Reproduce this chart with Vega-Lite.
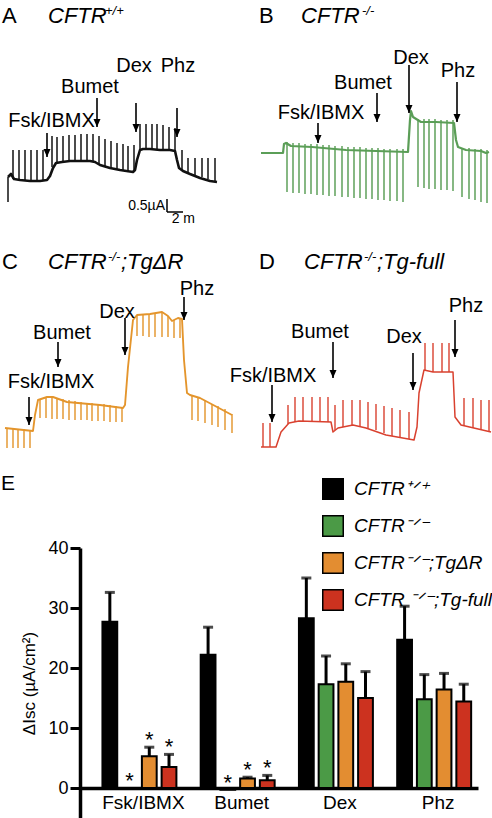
{
"$schema": "https://vega.github.io/schema/vega-lite/v6.json",
"padding": 0,
"background": "white",
"spacing": 7,
"resolve": {"legend": {"fill": "independent", "color": "independent", "strokeWidth": "independent"}, "scale": {"x": "independent", "y": "independent"}},
"config": {"font": "Liberation Sans", "view": {"stroke": null}, "title": {"fontWeight": "normal", "color": "black"},
 "headerFacet": {"labels": false, "labelExpr": "''", "labelFontSize": 0, "labelPadding": 0, "titlePadding": 0}},
"datasets": {
"fig": [
{"panel":"A","kind":"trace","t":8,"i":56},{"panel":"A","kind":"trace","t":11,"i":59},{"panel":"A","kind":"trace","t":14,"i":54},{"panel":"A","kind":"trace","t":20,"i":53},{"panel":"A","kind":"trace","t":30,"i":52},{"panel":"A","kind":"trace","t":40,"i":52},{"panel":"A","kind":"trace","t":47,"i":53},{"panel":"A","kind":"trace","t":50,"i":57},{"panel":"A","kind":"trace","t":53,"i":65},{"panel":"A","kind":"trace","t":56,"i":70},{"panel":"A","kind":"trace","t":62,"i":71},{"panel":"A","kind":"trace","t":70,"i":72},{"panel":"A","kind":"trace","t":80,"i":72},{"panel":"A","kind":"trace","t":90,"i":72},{"panel":"A","kind":"trace","t":95,"i":71},{"panel":"A","kind":"trace","t":100,"i":68},{"panel":"A","kind":"trace","t":110,"i":65},{"panel":"A","kind":"trace","t":120,"i":63},{"panel":"A","kind":"trace","t":133,"i":61},{"panel":"A","kind":"trace","t":135,"i":63},{"panel":"A","kind":"trace","t":137,"i":73},{"panel":"A","kind":"trace","t":140,"i":83},{"panel":"A","kind":"trace","t":143,"i":84},{"panel":"A","kind":"trace","t":150,"i":84},{"panel":"A","kind":"trace","t":160,"i":83},{"panel":"A","kind":"trace","t":170,"i":83},{"panel":"A","kind":"trace","t":175,"i":82},{"panel":"A","kind":"trace","t":177,"i":73},{"panel":"A","kind":"trace","t":179,"i":65},{"panel":"A","kind":"trace","t":183,"i":62},{"panel":"A","kind":"trace","t":190,"i":59},{"panel":"A","kind":"trace","t":200,"i":55},{"panel":"A","kind":"trace","t":210,"i":52},{"panel":"A","kind":"trace","t":217,"i":51},
{"panel":"A","kind":"spike","t":8,"i":31,"i2":56},
{"panel":"A","kind":"spike","t":13,"i":54,"i2":83},{"panel":"A","kind":"spike","t":19,"i":53,"i2":83},{"panel":"A","kind":"spike","t":25,"i":53,"i2":83},{"panel":"A","kind":"spike","t":31,"i":52,"i2":83},{"panel":"A","kind":"spike","t":37,"i":52,"i2":83},{"panel":"A","kind":"spike","t":43,"i":52,"i2":83},
{"panel":"A","kind":"spike","t":52,"i":66,"i2":97},{"panel":"A","kind":"spike","t":57,"i":70,"i2":96},{"panel":"A","kind":"spike","t":63,"i":71,"i2":97},{"panel":"A","kind":"spike","t":69,"i":72,"i2":98},{"panel":"A","kind":"spike","t":75,"i":72,"i2":98},{"panel":"A","kind":"spike","t":81,"i":72,"i2":99},{"panel":"A","kind":"spike","t":87,"i":72,"i2":99},{"panel":"A","kind":"spike","t":93,"i":72,"i2":99},{"panel":"A","kind":"spike","t":99,"i":69,"i2":97},{"panel":"A","kind":"spike","t":105,"i":67,"i2":94},{"panel":"A","kind":"spike","t":111,"i":65,"i2":92},{"panel":"A","kind":"spike","t":117,"i":64,"i2":90},{"panel":"A","kind":"spike","t":123,"i":62,"i2":89},{"panel":"A","kind":"spike","t":128,"i":61,"i2":87},{"panel":"A","kind":"spike","t":134,"i":62,"i2":88},
{"panel":"A","kind":"spike","t":140,"i":83,"i2":109},{"panel":"A","kind":"spike","t":146,"i":84,"i2":109},{"panel":"A","kind":"spike","t":152,"i":84,"i2":109},{"panel":"A","kind":"spike","t":157,"i":83,"i2":109},{"panel":"A","kind":"spike","t":163,"i":83,"i2":108},{"panel":"A","kind":"spike","t":169,"i":83,"i2":106},{"panel":"A","kind":"spike","t":175,"i":82,"i2":105},
{"panel":"A","kind":"spike","t":182,"i":62,"i2":83},{"panel":"A","kind":"spike","t":188,"i":60,"i2":75},{"panel":"A","kind":"spike","t":195,"i":58,"i2":75},{"panel":"A","kind":"spike","t":202,"i":56,"i2":75},{"panel":"A","kind":"spike","t":208,"i":54,"i2":75},{"panel":"A","kind":"spike","t":215,"i":52,"i2":75},
{"panel":"A","kind":"arrow","t":47,"i":100,"i2":76},{"panel":"A","kind":"arrow","t":97,"i":135,"i2":106},{"panel":"A","kind":"arrow","t":136,"i":130,"i2":101},{"panel":"A","kind":"arrow","t":177,"i":125,"i2":96},
{"panel":"A","kind":"label","t":51.5,"i":106,"txt":"Fsk/IBMX"},{"panel":"A","kind":"label","t":90,"i":140,"txt":"Bumet"},{"panel":"A","kind":"label","t":134,"i":161,"txt":"Dex"},{"panel":"A","kind":"label","t":178,"i":161,"txt":"Phz"},
{"panel":"A","kind":"letter","t":2,"i":210,"txt":"A"},{"panel":"A","kind":"title","t":48,"i":210,"txt":"CFTR"},{"panel":"A","kind":"sup","t":105,"i":218,"txt":"+/+"},
{"panel":"A","kind":"sbar","t":167,"t2":167,"i":34,"i2":21},{"panel":"A","kind":"sbar","t":167,"t2":183,"i":21,"i2":21},
{"panel":"A","kind":"sbtext","t":165,"i":23,"txt":"0.5µA"},{"panel":"A","kind":"sbtext","t":195,"i":10,"txt":"2 m"},

{"panel":"B","kind":"trace","t":15,"i":80},{"panel":"B","kind":"trace","t":37,"i":80},{"panel":"B","kind":"trace","t":38,"i":89},{"panel":"B","kind":"trace","t":40,"i":90},{"panel":"B","kind":"trace","t":45,"i":87},{"panel":"B","kind":"trace","t":66,"i":86},{"panel":"B","kind":"trace","t":100,"i":83},{"panel":"B","kind":"trace","t":130,"i":82},{"panel":"B","kind":"trace","t":162,"i":81},{"panel":"B","kind":"trace","t":164,"i":113},{"panel":"B","kind":"trace","t":165,"i":122},{"panel":"B","kind":"trace","t":167,"i":116},{"panel":"B","kind":"trace","t":175,"i":111},{"panel":"B","kind":"trace","t":190,"i":111},{"panel":"B","kind":"trace","t":208,"i":110},{"panel":"B","kind":"trace","t":210,"i":93},{"panel":"B","kind":"trace","t":212,"i":86},{"panel":"B","kind":"trace","t":220,"i":83},{"panel":"B","kind":"trace","t":235,"i":82},{"panel":"B","kind":"trace","t":240,"i":80},{"panel":"B","kind":"trace","t":243,"i":81},
{"panel":"B","kind":"spike","t":41,"i":41,"i2":91},{"panel":"B","kind":"spike","t":47,"i":40,"i2":90},{"panel":"B","kind":"spike","t":53,"i":40,"i2":90},{"panel":"B","kind":"spike","t":59,"i":39,"i2":89},{"panel":"B","kind":"spike","t":65,"i":39,"i2":89},{"panel":"B","kind":"spike","t":71,"i":38,"i2":89},{"panel":"B","kind":"spike","t":77,"i":38,"i2":88},{"panel":"B","kind":"spike","t":83,"i":37,"i2":88},{"panel":"B","kind":"spike","t":89,"i":37,"i2":87},{"panel":"B","kind":"spike","t":96,"i":36,"i2":87},{"panel":"B","kind":"spike","t":102,"i":36,"i2":86},{"panel":"B","kind":"spike","t":108,"i":35,"i2":86},{"panel":"B","kind":"spike","t":114,"i":35,"i2":86},{"panel":"B","kind":"spike","t":120,"i":34,"i2":85},{"panel":"B","kind":"spike","t":126,"i":34,"i2":85},{"panel":"B","kind":"spike","t":132,"i":33,"i2":85},{"panel":"B","kind":"spike","t":138,"i":33,"i2":84},{"panel":"B","kind":"spike","t":144,"i":32,"i2":84},{"panel":"B","kind":"spike","t":151,"i":32,"i2":84},{"panel":"B","kind":"spike","t":157,"i":31,"i2":84},
{"panel":"B","kind":"spike","t":172,"i":46,"i2":114},{"panel":"B","kind":"spike","t":178,"i":45,"i2":114},{"panel":"B","kind":"spike","t":183,"i":44,"i2":114},{"panel":"B","kind":"spike","t":189,"i":44,"i2":114},{"panel":"B","kind":"spike","t":195,"i":43,"i2":113},{"panel":"B","kind":"spike","t":201,"i":43,"i2":113},{"panel":"B","kind":"spike","t":207,"i":42,"i2":113},
{"panel":"B","kind":"spike","t":216,"i":36,"i2":85},{"panel":"B","kind":"spike","t":223,"i":34,"i2":85},{"panel":"B","kind":"spike","t":229,"i":33,"i2":84},{"panel":"B","kind":"spike","t":235,"i":31,"i2":84},{"panel":"B","kind":"spike","t":241,"i":30,"i2":83},
{"panel":"B","kind":"arrow","t":72,"i":110,"i2":90},{"panel":"B","kind":"arrow","t":131,"i":140,"i2":111},{"panel":"B","kind":"arrow","t":163,"i":168,"i2":120},{"panel":"B","kind":"arrow","t":211,"i":151,"i2":111},
{"panel":"B","kind":"label","t":75,"i":114,"txt":"Fsk/IBMX"},{"panel":"B","kind":"label","t":117,"i":144,"txt":"Bumet"},{"panel":"B","kind":"label","t":165,"i":169,"txt":"Dex"},{"panel":"B","kind":"label","t":212,"i":156,"txt":"Phz"},
{"panel":"B","kind":"letter","t":13,"i":210,"txt":"B"},{"panel":"B","kind":"title","t":55,"i":210,"txt":"CFTR"},{"panel":"B","kind":"sup","t":116,"i":218,"txt":"-/-"},

{"panel":"C","kind":"trace","t":5,"i":38},{"panel":"C","kind":"trace","t":33,"i":35},{"panel":"C","kind":"trace","t":35,"i":51},{"panel":"C","kind":"trace","t":38,"i":66},{"panel":"C","kind":"trace","t":47,"i":69},{"panel":"C","kind":"trace","t":53,"i":69},{"panel":"C","kind":"trace","t":67,"i":64},{"panel":"C","kind":"trace","t":100,"i":61},{"panel":"C","kind":"trace","t":123,"i":58},{"panel":"C","kind":"trace","t":125,"i":61},{"panel":"C","kind":"trace","t":128,"i":99},{"panel":"C","kind":"trace","t":133,"i":146},{"panel":"C","kind":"trace","t":137,"i":151},{"panel":"C","kind":"trace","t":150,"i":152},{"panel":"C","kind":"trace","t":162,"i":154},{"panel":"C","kind":"trace","t":168,"i":150},{"panel":"C","kind":"trace","t":172,"i":145},{"panel":"C","kind":"trace","t":178,"i":148},{"panel":"C","kind":"trace","t":182,"i":147},{"panel":"C","kind":"trace","t":184,"i":106},{"panel":"C","kind":"trace","t":187,"i":73},{"panel":"C","kind":"trace","t":190,"i":71},{"panel":"C","kind":"trace","t":200,"i":68},{"panel":"C","kind":"trace","t":217,"i":59},{"panel":"C","kind":"trace","t":232,"i":51},
{"panel":"C","kind":"spike","t":7,"i":18,"i2":38},{"panel":"C","kind":"spike","t":13,"i":18,"i2":38},{"panel":"C","kind":"spike","t":18,"i":18,"i2":37},{"panel":"C","kind":"spike","t":24,"i":18,"i2":37},{"panel":"C","kind":"spike","t":30,"i":18,"i2":36},
{"panel":"C","kind":"spike","t":40,"i":48,"i2":67},{"panel":"C","kind":"spike","t":46,"i":48,"i2":69},{"panel":"C","kind":"spike","t":52,"i":47,"i2":69},{"panel":"C","kind":"spike","t":57,"i":47,"i2":68},{"panel":"C","kind":"spike","t":63,"i":47,"i2":67},{"panel":"C","kind":"spike","t":69,"i":46,"i2":66},{"panel":"C","kind":"spike","t":75,"i":46,"i2":65},{"panel":"C","kind":"spike","t":81,"i":46,"i2":64},{"panel":"C","kind":"spike","t":87,"i":46,"i2":63},{"panel":"C","kind":"spike","t":92,"i":45,"i2":63},{"panel":"C","kind":"spike","t":98,"i":45,"i2":62},{"panel":"C","kind":"spike","t":104,"i":45,"i2":62},{"panel":"C","kind":"spike","t":110,"i":44,"i2":61},{"panel":"C","kind":"spike","t":116,"i":44,"i2":60},{"panel":"C","kind":"spike","t":122,"i":44,"i2":59},
{"panel":"C","kind":"spike","t":137,"i":130,"i2":151},{"panel":"C","kind":"spike","t":143,"i":130,"i2":151},{"panel":"C","kind":"spike","t":149,"i":129,"i2":152},{"panel":"C","kind":"spike","t":155,"i":129,"i2":152},{"panel":"C","kind":"spike","t":162,"i":129,"i2":153},{"panel":"C","kind":"spike","t":168,"i":129,"i2":150},{"panel":"C","kind":"spike","t":174,"i":128,"i2":146},{"panel":"C","kind":"spike","t":180,"i":128,"i2":147},
{"panel":"C","kind":"spike","t":192,"i":46,"i2":71},{"panel":"C","kind":"spike","t":198,"i":45,"i2":69},{"panel":"C","kind":"spike","t":205,"i":43,"i2":66},{"panel":"C","kind":"spike","t":212,"i":41,"i2":62},{"panel":"C","kind":"spike","t":218,"i":39,"i2":60},{"panel":"C","kind":"spike","t":225,"i":36,"i2":57},{"panel":"C","kind":"spike","t":232,"i":33,"i2":52},
{"panel":"C","kind":"arrow","t":29,"i":69,"i2":41},{"panel":"C","kind":"arrow","t":58,"i":124,"i2":99},{"panel":"C","kind":"arrow","t":125,"i":148,"i2":111},{"panel":"C","kind":"arrow","t":184,"i":169,"i2":146},
{"panel":"C","kind":"label","t":51,"i":78,"txt":"Fsk/IBMX"},{"panel":"C","kind":"label","t":62,"i":127,"txt":"Bumet"},{"panel":"C","kind":"label","t":117,"i":148,"txt":"Dex"},{"panel":"C","kind":"label","t":197,"i":171,"txt":"Phz"},
{"panel":"C","kind":"letter","t":2,"i":197,"txt":"C"},{"panel":"C","kind":"title","t":48,"i":197,"txt":"CFTR"},{"panel":"C","kind":"sup","t":108,"i":205,"txt":"-/-"},{"panel":"C","kind":"title","t":121,"i":197,"txt":";TgΔR"},

{"panel":"D","kind":"trace","t":15,"i":19},{"panel":"D","kind":"trace","t":30,"i":19},{"panel":"D","kind":"trace","t":35,"i":34},{"panel":"D","kind":"trace","t":43,"i":43},{"panel":"D","kind":"trace","t":53,"i":45},{"panel":"D","kind":"trace","t":85,"i":44},{"panel":"D","kind":"trace","t":87,"i":34},{"panel":"D","kind":"trace","t":92,"i":38},{"panel":"D","kind":"trace","t":107,"i":41},{"panel":"D","kind":"trace","t":120,"i":38},{"panel":"D","kind":"trace","t":140,"i":31},{"panel":"D","kind":"trace","t":168,"i":26},{"panel":"D","kind":"trace","t":171,"i":39},{"panel":"D","kind":"trace","t":173,"i":73},{"panel":"D","kind":"trace","t":178,"i":96},{"panel":"D","kind":"trace","t":187,"i":94},{"panel":"D","kind":"trace","t":207,"i":94},{"panel":"D","kind":"trace","t":209,"i":49},{"panel":"D","kind":"trace","t":215,"i":41},{"panel":"D","kind":"trace","t":245,"i":34},
{"panel":"D","kind":"spike","t":17,"i":19,"i2":43},{"panel":"D","kind":"spike","t":24,"i":19,"i2":43},
{"panel":"D","kind":"spike","t":42,"i":42,"i2":61},{"panel":"D","kind":"spike","t":49,"i":44,"i2":69},{"panel":"D","kind":"spike","t":57,"i":45,"i2":69},{"panel":"D","kind":"spike","t":66,"i":45,"i2":69},{"panel":"D","kind":"spike","t":74,"i":45,"i2":69},{"panel":"D","kind":"spike","t":82,"i":44,"i2":69},
{"panel":"D","kind":"spike","t":89,"i":36,"i2":61},{"panel":"D","kind":"spike","t":97,"i":39,"i2":66},{"panel":"D","kind":"spike","t":106,"i":41,"i2":66},{"panel":"D","kind":"spike","t":114,"i":40,"i2":66},{"panel":"D","kind":"spike","t":122,"i":38,"i2":64},{"panel":"D","kind":"spike","t":130,"i":36,"i2":62},{"panel":"D","kind":"spike","t":138,"i":33,"i2":60},{"panel":"D","kind":"spike","t":146,"i":30,"i2":58},{"panel":"D","kind":"spike","t":154,"i":29,"i2":56},{"panel":"D","kind":"spike","t":163,"i":27,"i2":54},
{"panel":"D","kind":"spike","t":179,"i":96,"i2":123},{"panel":"D","kind":"spike","t":187,"i":94,"i2":123},{"panel":"D","kind":"spike","t":196,"i":94,"i2":123},{"panel":"D","kind":"spike","t":203,"i":94,"i2":123},
{"panel":"D","kind":"spike","t":218,"i":40,"i2":68},{"panel":"D","kind":"spike","t":227,"i":38,"i2":68},{"panel":"D","kind":"spike","t":235,"i":36,"i2":66},{"panel":"D","kind":"spike","t":243,"i":34,"i2":66},
{"panel":"D","kind":"arrow","t":26,"i":81,"i2":44},{"panel":"D","kind":"arrow","t":87,"i":124,"i2":88},{"panel":"D","kind":"arrow","t":167,"i":113,"i2":76},{"panel":"D","kind":"arrow","t":209,"i":146,"i2":109},
{"panel":"D","kind":"label","t":27,"i":84,"txt":"Fsk/IBMX"},{"panel":"D","kind":"label","t":74,"i":128,"txt":"Bumet"},{"panel":"D","kind":"label","t":158,"i":123,"txt":"Dex"},{"panel":"D","kind":"label","t":220,"i":154,"txt":"Phz"},
{"panel":"D","kind":"letter","t":13,"i":197,"txt":"D"},{"panel":"D","kind":"title","t":58,"i":197,"txt":"CFTR"},{"panel":"D","kind":"sup","t":118,"i":205,"txt":"-/-"},{"panel":"D","kind":"title","t":131,"i":197,"txt":";Tg-full"}
],
"bars": [
{"cond":"Fsk/IBMX","geno":"CFTR⁺ᐟ⁺","mean":27.7,"hi":32.6,"sig":false},
{"cond":"Fsk/IBMX","geno":"CFTR⁻ᐟ⁻","mean":0,"hi":0,"sig":true},
{"cond":"Fsk/IBMX","geno":"CFTR⁻ᐟ⁻;TgΔR","mean":5.3,"hi":6.8,"sig":true},
{"cond":"Fsk/IBMX","geno":"CFTR ⁻ᐟ⁻;Tg-full","mean":3.5,"hi":5.6,"sig":true},
{"cond":"Bumet","geno":"CFTR⁺ᐟ⁺","mean":22.2,"hi":26.8,"sig":false},
{"cond":"Bumet","geno":"CFTR⁻ᐟ⁻","mean":-0.3,"hi":-0.3,"sig":true},
{"cond":"Bumet","geno":"CFTR⁻ᐟ⁻;TgΔR","mean":1.6,"hi":1.8,"sig":true},
{"cond":"Bumet","geno":"CFTR ⁻ᐟ⁻;Tg-full","mean":1.3,"hi":2.1,"sig":true},
{"cond":"Dex","geno":"CFTR⁺ᐟ⁺","mean":28.3,"hi":35.0,"sig":false},
{"cond":"Dex","geno":"CFTR⁻ᐟ⁻","mean":17.3,"hi":22.0,"sig":false},
{"cond":"Dex","geno":"CFTR⁻ᐟ⁻;TgΔR","mean":17.7,"hi":20.7,"sig":false},
{"cond":"Dex","geno":"CFTR ⁻ᐟ⁻;Tg-full","mean":15.0,"hi":19.4,"sig":false},
{"cond":"Phz","geno":"CFTR⁺ᐟ⁺","mean":24.7,"hi":30.3,"sig":false},
{"cond":"Phz","geno":"CFTR⁻ᐟ⁻","mean":14.8,"hi":18.9,"sig":false},
{"cond":"Phz","geno":"CFTR⁻ᐟ⁻;TgΔR","mean":16.4,"hi":19.1,"sig":false},
{"cond":"Phz","geno":"CFTR ⁻ᐟ⁻;Tg-full","mean":14.4,"hi":17.3,"sig":false}
]
},
"vconcat": [
{
"data": {"name": "fig"},
"facet": {"field": "panel", "type": "nominal", "header": {"labels": false, "labelExpr": "''", "labelFontSize": 0, "labelPadding": 0, "title": null, "titlePadding": 0}},
"columns": 2,
"spacing": 0,
"bounds": "flush",
"spec": {
"width": 246, "height": 233,
"encoding": {
"x": {"field": "t", "type": "quantitative", "scale": {"domain": [0, 246], "nice": false, "zero": false}, "axis": null},
"y": {"field": "i", "type": "quantitative", "scale": {"domain": [0, 233], "nice": false, "zero": false}, "axis": null}
},
"resolve": {"scale": {"strokeWidth": "independent"}},
"layer": [
{"transform": [{"filter": "datum.kind === 'trace'"}], "mark": {"type": "line", "strokeJoin": "round"},
 "encoding": {"color": {"field": "panel", "type": "nominal", "scale": {"domain": ["A","B","C","D"], "range": ["#111111","#5b9e57","#e4952c","#d9412f"]}, "legend": null},
  "strokeWidth": {"field": "panel", "type": "ordinal", "scale": {"domain": ["A","B","C","D"], "range": [2.6,1.5,3,1.5]}, "legend": null}}},
{"transform": [{"filter": "datum.kind === 'spike'"}], "mark": {"type": "rule"},
 "encoding": {"y2": {"field": "i2"}, "color": {"field": "panel", "type": "nominal", "legend": null},
  "strokeWidth": {"field": "panel", "type": "ordinal", "scale": {"domain": ["A","B","C","D"], "range": [1.5,1.4,2.4,1.4]}, "legend": null}}},
{"transform": [{"filter": "datum.kind === 'sbar'"}], "mark": {"type": "rule", "color": "black", "strokeWidth": 1.5},
 "encoding": {"x2": {"field": "t2"}, "y2": {"field": "i2"}}},
{"transform": [{"filter": "datum.kind === 'arrow'"}], "mark": {"type": "rule", "color": "black", "strokeWidth": 1.6},
 "encoding": {"y2": {"field": "i2"}}},
{"transform": [{"filter": "datum.kind === 'arrow'"}], "mark": {"type": "point", "shape": "M-0.7,-1.6L0.7,-1.6L0,0Z", "size": 100, "filled": true, "color": "black", "opacity": 1, "strokeWidth": 0},
 "encoding": {"y": {"field": "i2", "type": "quantitative"}}},
{"transform": [{"filter": "datum.kind === 'label'"}], "mark": {"type": "text", "fontSize": 20, "align": "center", "baseline": "alphabetic", "color": "black"},
 "encoding": {"text": {"field": "txt"}}},
{"transform": [{"filter": "datum.kind === 'letter'"}], "mark": {"type": "text", "fontSize": 22, "align": "left", "baseline": "alphabetic", "color": "black"},
 "encoding": {"text": {"field": "txt"}}},
{"transform": [{"filter": "datum.kind === 'title'"}], "mark": {"type": "text", "fontSize": 22, "fontStyle": "italic", "align": "left", "baseline": "alphabetic", "color": "black"},
 "encoding": {"text": {"field": "txt"}}},
{"transform": [{"filter": "datum.kind === 'sup'"}], "mark": {"type": "text", "fontSize": 13, "fontStyle": "italic", "align": "left", "baseline": "alphabetic", "color": "black"},
 "encoding": {"text": {"field": "txt"}}},
{"transform": [{"filter": "datum.kind === 'sbtext'"}], "mark": {"type": "text", "fontSize": 14, "align": "right", "baseline": "alphabetic", "color": "black"},
 "encoding": {"text": {"field": "txt"}}}
]
}
},
{
"spacing": 0,
"resolve": {"legend": {"fill": "independent"}, "scale": {"x": "independent", "y": "independent"}},
"hconcat": [
{"width": 1, "height": 1, "data": {"values": [{"gap": 0}]}, "mark": {"type": "point", "opacity": 0, "size": 0}, "encoding": {}},
{
"width": 398, "height": 270,
"data": {"name": "bars"},
"title": {"text": "E", "anchor": "start", "frame": "group", "dx": -79, "offset": -16, "fontSize": 21, "fontWeight": "normal", "color": "black"},
"encoding": {
"x": {"field": "cond", "type": "nominal", "sort": ["Fsk/IBMX","Bumet","Dex","Phz"], "scale": {"paddingInner": 0.197, "paddingOuter": 0.124, "align": 0.82},
 "axis": {"orient": "bottom", "offset": -30, "title": null, "ticks": false, "domainWidth": 3.5, "domainColor": "black", "labelFontSize": 19, "labelColor": "black", "labelPadding": 5, "labelAngle": 0, "labelOffset": 4}},
"xOffset": {"field": "geno", "type": "nominal", "sort": ["CFTR⁺ᐟ⁺","CFTR⁻ᐟ⁻","CFTR⁻ᐟ⁻;TgΔR","CFTR ⁻ᐟ⁻;Tg-full"], "scale": {"paddingInner": 0.25, "paddingOuter": 0.125}}
},
"layer": [
{"mark": {"type": "bar", "stroke": "black", "strokeWidth": 2},
 "encoding": {
  "y": {"field": "mean", "type": "quantitative", "title": "ΔIsc (µA/cm²)", "scale": {"domain": [-5, 40], "nice": false, "zero": false},
   "axis": {"values": [0,10,20,30,40], "grid": false, "tickSize": 10, "tickWidth": 3, "tickColor": "black", "domainWidth": 3.5, "domainColor": "black", "labelFontSize": 18, "labelColor": "black", "labelPadding": 2, "titleFontSize": 17, "titleFontWeight": "normal", "titleColor": "black", "titlePadding": 9}},
  "fill": {"field": "geno", "type": "nominal", "scale": {"domain": ["CFTR⁺ᐟ⁺","CFTR⁻ᐟ⁻","CFTR⁻ᐟ⁻;TgΔR","CFTR ⁻ᐟ⁻;Tg-full"], "range": ["#000000","#4b9a46","#e38d31","#cc321f"]},
   "legend": {"orient": "none", "legendX": 242, "legendY": -70, "title": null, "symbolType": "square", "symbolSize": 420, "symbolStrokeColor": "black", "symbolStrokeWidth": 1.5, "labelFontSize": 19, "labelFontStyle": "italic", "labelColor": "black", "labelOffset": 10, "rowPadding": 9, "labelLimit": 300, "padding": 0}}
 }},
{"transform": [{"filter": "datum.hi > datum.mean"}], "mark": {"type": "rule", "strokeWidth": 3, "color": "black"},
 "encoding": {"y": {"field": "mean", "type": "quantitative", "title": "ΔIsc (µA/cm²)"}, "y2": {"field": "hi"}}},
{"transform": [{"filter": "datum.hi > datum.mean"}], "mark": {"type": "tick", "orient": "horizontal", "size": 10, "thickness": 3, "color": "black"},
 "encoding": {"y": {"field": "hi", "type": "quantitative", "title": "ΔIsc (µA/cm²)"}}},
{"transform": [{"filter": "datum.sig"}], "mark": {"type": "text", "text": "*", "fontSize": 22, "dy": 0, "baseline": "alphabetic", "align": "center", "color": "black"},
 "encoding": {"y": {"field": "hi", "type": "quantitative", "title": "ΔIsc (µA/cm²)"}}}
]
}
]
}
]
}
